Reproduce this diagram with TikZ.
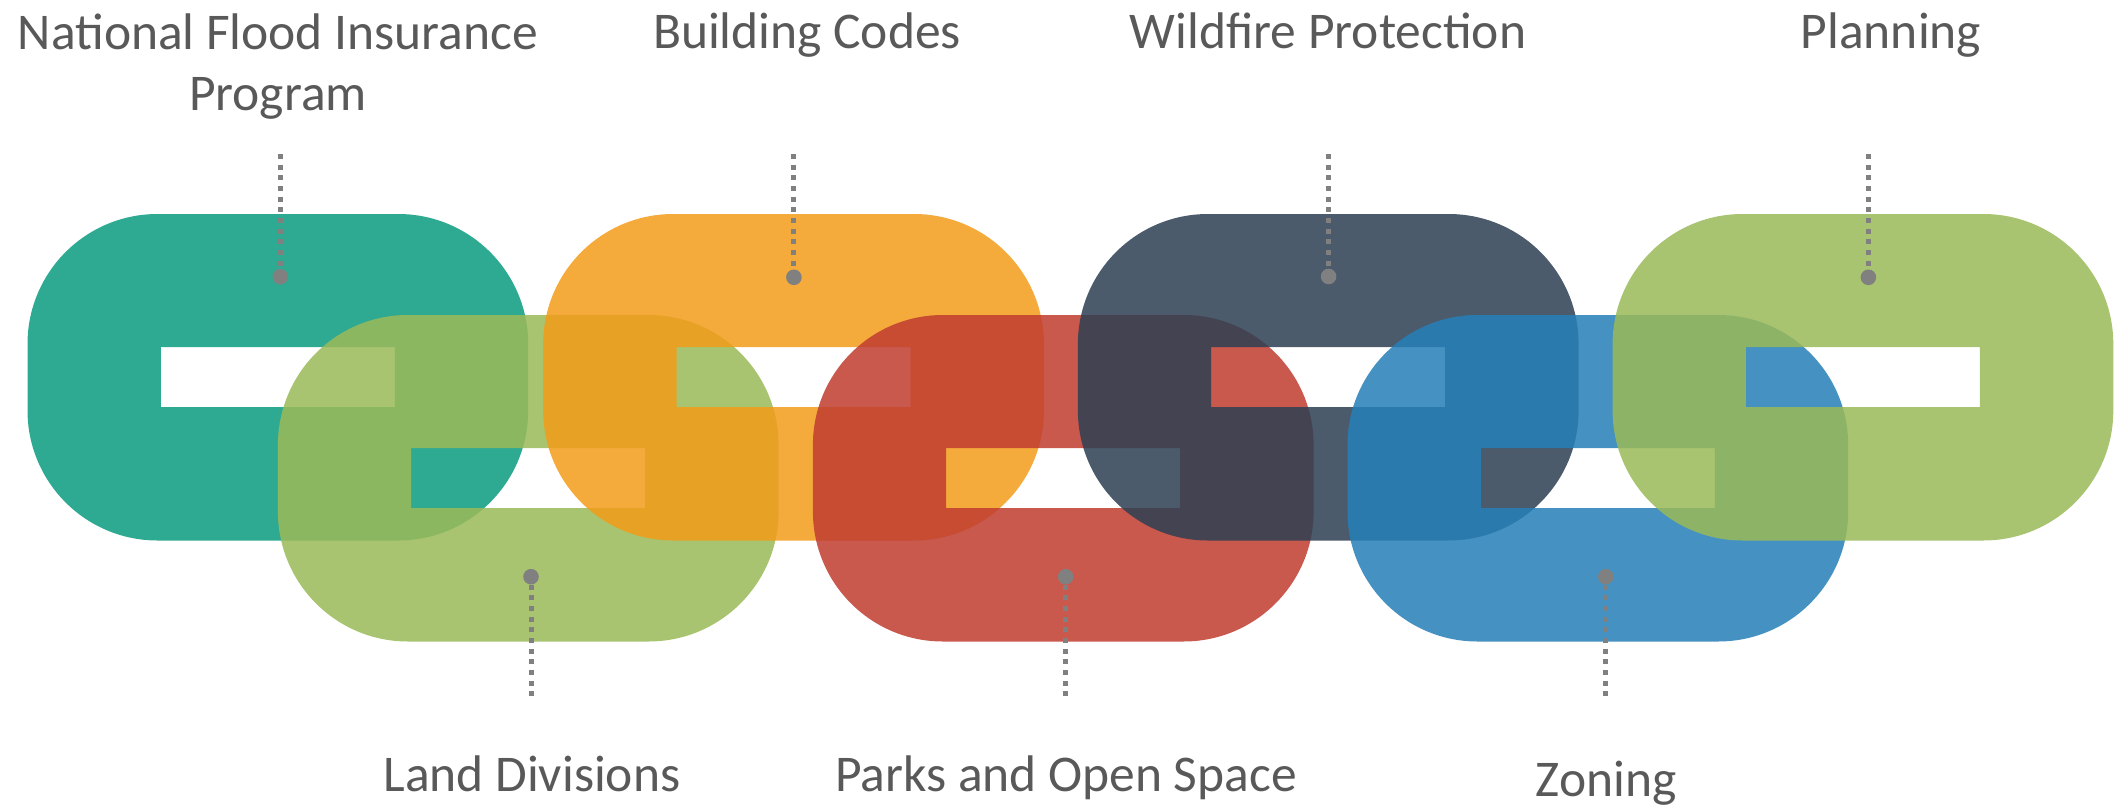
\documentclass[tikz,border=0pt]{standalone}
\usepackage{fontspec}
\setmainfont{Carlito}
\definecolor{teal1}{RGB}{13,156,128}
\definecolor{orange1}{RGB}{242,157,27}
\definecolor{slate1}{RGB}{45,64,83}
\definecolor{green1}{RGB}{154,186,88}
\definecolor{red1}{RGB}{192,60,48}
\definecolor{blue1}{RGB}{39,127,184}
\definecolor{txt}{RGB}{89,89,89}
\definecolor{leader}{RGB}{128,128,128}
\newcommand\chainlink[3]{%
  \fill[link=#1] [rounded corners=130pt] (#2,#3) rectangle ++(500.7,326.5)
    [sharp corners] (#2+133.3,#3+133) rectangle ++(234,60);}
\begin{document}
\begin{tikzpicture}[x=1pt,y=-1pt,
  link/.style={fill=#1, fill opacity=0.86, even odd rule},
  lbl/.style={text=txt, font=\fontsize{51.5}{61}\selectfont, anchor=base, inner sep=0pt, align=center},
  dot/.style={circle, fill=leader, minimum size=15.6pt, inner sep=0pt},
  leaderline/.style={draw=leader, line width=5pt, dash pattern=on 5pt off 5.67pt}]
\useasboundingbox (0,0) rectangle (2121,806);
% chain links, left to right (each drawn over the previous)
\chainlink{teal1}{27.5}{214}
\chainlink{green1}{277.9}{315}
\chainlink{orange1}{543.2}{214}
\chainlink{red1}{812.9}{315}
\chainlink{slate1}{1077.9}{214}
\chainlink{blue1}{1347.5}{315}
\chainlink{green1}{1612.6}{214}
% top leaders
\coordinate (t1) at (280.3,154);  \node[dot] (d1) at (280.3,276.7) {};
\coordinate (t2) at (793.9,154);  \node[dot] (d2) at (793.9,277.3) {};
\coordinate (t3) at (1328.6,154); \node[dot] (d3) at (1328.6,276.5) {};
\coordinate (t4) at (1868.4,154); \node[dot] (d4) at (1868.4,277.3) {};
\draw[leaderline] (t1) -- (d1);
\draw[leaderline] (t2) -- (d2);
\draw[leaderline] (t3) -- (d3);
\draw[leaderline] (t4) -- (d4);
% bottom leaders
\node[dot] (d5) at (531,576.7) {};    \coordinate (b5) at (531,702);
\node[dot] (d6) at (1065.7,576.7) {}; \coordinate (b6) at (1065.7,702);
\node[dot] (d7) at (1605.8,576.7) {}; \coordinate (b7) at (1605.8,702);
\draw[leaderline] (d5) -- (b5);
\draw[leaderline] (d6) -- (b6);
\draw[leaderline] (d7) -- (b7);
% labels
\node[lbl] (l1) at (278,110) {National Flood Insurance\\Program};
\node[lbl] (l2) at (807,48.3) {Building Codes};
\node[lbl] (l3) at (1328,48.3) {Wildfire Protection};
\node[lbl] (l4) at (1891,48.3) {Planning};
\node[lbl] (l5) at (532,791) {Land Divisions};
\node[lbl] (l6) at (1066,791) {Parks and Open Space};
\node[lbl] (l7) at (1606,796.7) {Zoning};
\end{tikzpicture}
\end{document}
